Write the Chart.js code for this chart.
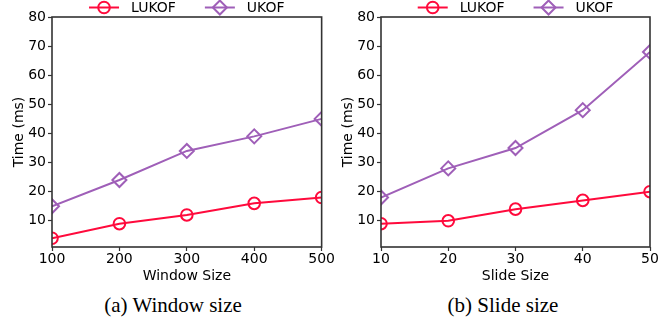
<!DOCTYPE html>
<html><head><meta charset="utf-8">
<script src="https://cdn.jsdelivr.net/npm/chart.js@4/dist/chart.umd.min.js"></script>
<style>
html,body{margin:0;padding:0;background:#fff;}
#wrap{position:relative;width:670px;height:320px;}
.c{position:absolute;top:0;width:335px;height:285px;}
.cap{position:absolute;top:292px;font-family:"Liberation Serif","Times New Roman",serif;font-size:21px;line-height:27px;color:#000;white-space:nowrap;transform:translateX(-50%);}
</style></head>
<body><div id="wrap">
<div class="c" style="left:0"><canvas id="c1" width="335" height="285"></canvas></div>
<div class="c" style="left:335px"><canvas id="c2" width="335" height="285"></canvas></div>
<div class="cap" style="left:173px">(a) Window size</div>
<div class="cap" style="left:503px">(b) Slide size</div>
</div>
<script>
const seriesNames = ["LUKOF", "UKOF"];
const windowSizes = [100, 200, 300, 400, 500];
const windowLUKOF = [4, 9, 12, 16, 18];
const windowUKOF = [15, 24, 34, 39, 45];
const slideSizes = [10, 20, 30, 40, 50];
const slideLUKOF = [9, 10, 14, 17, 20];
const slideUKOF = [18, 28, 35, 48, 68];
const yTicks = [10, 20, 30, 40, 50, 60, 70, 80];

const RED = '#ff0a3c', PURPLE = '#9f5fb8';
const AX = '#333333';

const boxAndLegend = {
  id: 'boxAndLegend',
  afterDraw(chart) {
    const ctx = chart.ctx, a = chart.chartArea;
    ctx.save();
    ctx.strokeStyle = AX; ctx.lineWidth = 1.6;
    ctx.strokeRect(a.left, a.top, a.right - a.left, a.bottom - a.top);
    ctx.font = '14px "DejaVu Sans"';
    const lineW = 30, gapT = 12, gapE = 29;
    const ds = chart.data.datasets;
    const widths = ds.map(d => ctx.measureText(d.label).width);
    const total = ds.reduce((s, d, i) => s + lineW + gapT + widths[i], 0) + gapE * (ds.length - 1);
    let x = (a.left + a.right) / 2 - total / 2;
    const y = 7.5;
    ds.forEach((d, i) => {
      ctx.strokeStyle = d.borderColor; ctx.lineWidth = 2;
      ctx.beginPath(); ctx.moveTo(x, y); ctx.lineTo(x + lineW, y); ctx.stroke();
      ctx.fillStyle = 'rgba(0,0,0,0)';
      ctx.strokeStyle = d.borderColor; ctx.lineWidth = 2;
      Chart.helpers.drawPoint(ctx, {pointStyle: d.pointStyle, radius: d.pointRadius, borderWidth: 2, rotation: 0}, x + lineW / 2, y);
      ctx.fillStyle = '#000'; ctx.textBaseline = 'middle'; ctx.textAlign = 'left';
      ctx.fillText(d.label, x + lineW + gapT, y + 0.5);
      x += lineW + gapT + widths[i] + gapE;
    });
    ctx.restore();
  }
};

function makeChart(id, xs, a, b, xTitle, padLeft, yW, padRight) {
  const mk = (label, vals, color, style, r) => ({
    label, data: xs.map((x, i) => ({x, y: vals[i]})),
    borderColor: color, backgroundColor: 'rgba(0,0,0,0)', borderWidth: 2,
    pointStyle: style, pointRadius: r, pointHoverRadius: r, pointBorderWidth: 2,
    pointBackgroundColor: 'rgba(0,0,0,0)', pointBorderColor: color,
    tension: 0, clip: 0
  });
  new Chart(document.getElementById(id), {
    type: 'line',
    data: { datasets: [mk(seriesNames[0], a, RED, 'circle', 5.8), mk(seriesNames[1], b, PURPLE, 'rectRot', 7)] },
    options: {
      responsive: false, animation: false,
      layout: { padding: { left: padLeft, right: padRight, top: 17, bottom: 0 } },
      plugins: { legend: { display: false }, tooltip: { enabled: false } },
      scales: {
        x: {
          type: 'linear', min: xs[0], max: xs[xs.length - 1],
          afterBuildTicks: s => { s.ticks = xs.map(v => ({value: v})); },
          afterFit: s => { s.height = 38; },
          grid: { drawOnChartArea: false, tickLength: 4, tickColor: AX, tickWidth: 1.2 },
          border: { display: false },
          ticks: { color: '#000', font: { family: 'DejaVu Sans', size: 14 }, padding: 0, maxRotation: 0 },
          title: { display: true, text: xTitle, color: '#000', font: { family: 'DejaVu Sans', size: 14 }, padding: { top: 0, bottom: 0 } }
        },
        y: {
          min: 1, max: 80,
          afterBuildTicks: s => { s.ticks = yTicks.map(v => ({value: v})); },
          afterFit: s => { s.width = yW; },
          grid: { drawOnChartArea: false, tickLength: 4, tickColor: AX, tickWidth: 1.2 },
          border: { display: false },
          ticks: { color: '#000', font: { family: 'DejaVu Sans', size: 14 }, padding: 2 },
          title: { display: true, text: 'Time (ms)', color: '#000', font: { family: 'DejaVu Sans', size: 14 }, padding: { top: 0, bottom: 2 } }
        }
      }
    },
    plugins: [boxAndLegend]
  });
}
makeChart('c1', windowSizes, windowLUKOF, windowUKOF, 'Window Size', 11, 41, 13);
makeChart('c2', slideSizes, slideLUKOF, slideUKOF, 'Slide Size', 5, 41, 20);
</script>
</body></html>
